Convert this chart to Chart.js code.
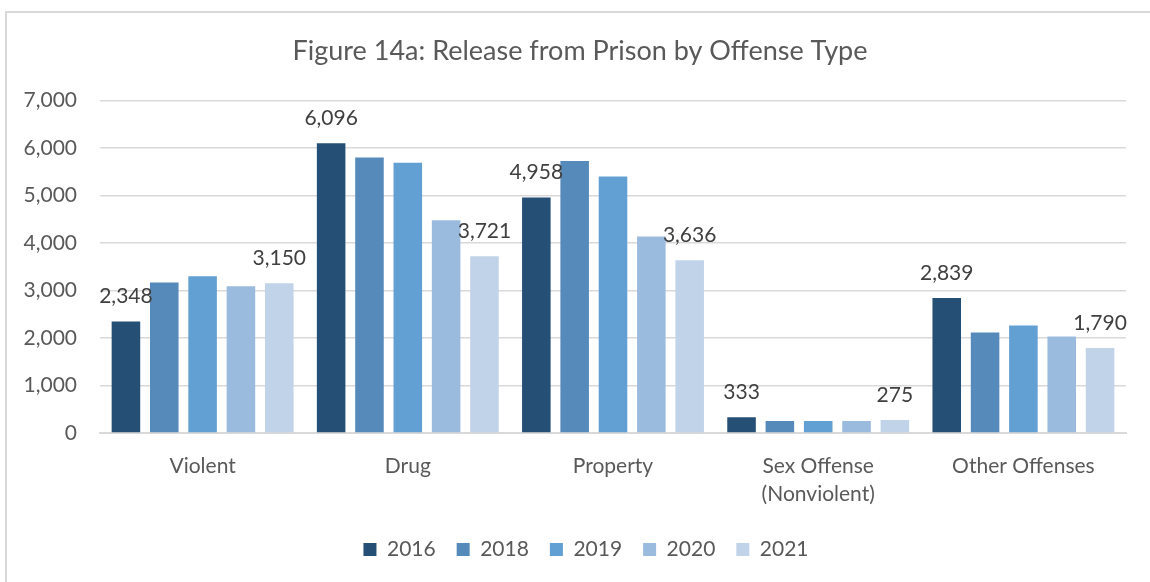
<!DOCTYPE html>
<html>
<head>
<meta charset="utf-8">
<script src="https://cdn.jsdelivr.net/npm/chart.js@4.4.1/dist/chart.umd.min.js"></script>
<style>
  body { margin: 0; background: #fff; }
  #frame {
    position: absolute; left: 5px; top: 11px;
    width: 1200px; height: 620px;
    border: 2px solid #d9d9d9;
  }
  #wrap { position: absolute; left: 0; top: 0; width: 1150px; height: 582px; }
</style>
</head>
<body>
<div id="frame"></div>
<div id="wrap"><canvas id="releaseChart"></canvas></div>
<script>
const categories = ["Violent", "Drug", "Property", ["Sex Offense", "(Nonviolent)"], "Other Offenses"];
const years = ["2016", "2018", "2019", "2020", "2021"];

const releases2016 = [2348, 6096, 4958, 333, 2839];
const releases2018 = [3166, 5800, 5723, 255, 2117];
const releases2019 = [3298, 5688, 5400, 250, 2264];
const releases2020 = [3088, 4480, 4136, 250, 2030];
const releases2021 = [3150, 3721, 3636, 275, 1790];

const yTicks = [0, 1000, 2000, 3000, 4000, 5000, 6000, 7000];

const colors = ["#254f75", "#568abb", "#629fd2", "#9bbbde", "#c0d3e9"];
const seriesValues = [releases2016, releases2018, releases2019, releases2020, releases2021];

// only the first and last year get value labels
const labelledSeries = [0, 4];

const FONT = "Lato";

const barValueLabels = {
  id: "barValueLabels",
  afterDatasetsDraw(chart) {
    const ctx = chart.ctx;
    ctx.save();
    ctx.font = `21px ${FONT}`;
    ctx.fillStyle = "#404040";
    ctx.textAlign = "center";
    ctx.textBaseline = "middle";
    labelledSeries.forEach((di) => {
      const meta = chart.getDatasetMeta(di);
      meta.data.forEach((bar, i) => {
        const v = chart.data.datasets[di].data[i];
        ctx.fillText(v.toLocaleString("en-US"), bar.x, bar.y - 25);
      });
    });
    ctx.restore();
  },
};

// nudge title and legend right so they sit over the plot rather than the whole canvas
const shiftBlocks = {
  id: "shiftBlocks",
  afterLayout(chart) {
    const nudge = (box, dx) => {
      if (!box) return;
      box.left += dx;
      box.right += dx;
    };
    nudge(chart.titleBlock, 17);
    nudge(chart.legend, 23);
  },
};

document.addEventListener("DOMContentLoaded", function () {
  const canvas = document.getElementById("releaseChart");

  new Chart(canvas, {
    type: "bar",
    data: {
      labels: categories,
      datasets: years.map((y, i) => ({
        label: y,
        data: seriesValues[i],
        backgroundColor: colors[i],
        categoryPercentage: 0.934,
        barPercentage: 0.745,
      })),
    },
    options: {
      responsive: true,
      maintainAspectRatio: false,
      animation: false,
      layout: { padding: { left: 0, right: 24, top: 0, bottom: 12 } },
      plugins: {
        title: {
          display: true,
          text: "Figure 14a: Release from Prison by Offense Type",
          color: "#595959",
          font: { family: FONT, size: 27, weight: "normal" },
          padding: { top: 35, bottom: 33 },
        },
        legend: {
          position: "bottom",
          labels: {
            color: "#595959",
            font: { family: FONT, size: 21 },
            boxWidth: 13,
            boxHeight: 13,
            padding: 21,
          },
        },
        tooltip: { enabled: false },
      },
      scales: {
        x: {
          grid: { display: false, drawTicks: false },
          border: { display: true, color: "#d9d9d9", width: 2 },
          ticks: {
            color: "#595959",
            font: { family: FONT, size: 21, lineHeight: 1.3 },
            padding: 20,
            maxRotation: 0,
          },
          afterFit(scale) {
            scale.height = 85;
          },
        },
        y: {
          min: 0,
          max: 7000,
          afterBuildTicks(scale) {
            scale.ticks = yTicks.map((v) => ({ value: v }));
          },
          grid: { color: "#d9d9d9", lineWidth: 1.5, drawTicks: false },
          border: { display: false },
          ticks: {
            color: "#595959",
            font: { family: FONT, size: 21 },
            padding: 23,
            callback: (v) => v.toLocaleString("en-US"),
          },
          afterFit(scale) {
            scale.width = 100;
          },
        },
      },
    },
    plugins: [barValueLabels, shiftBlocks],
  });
});
</script>
</body>
</html>
